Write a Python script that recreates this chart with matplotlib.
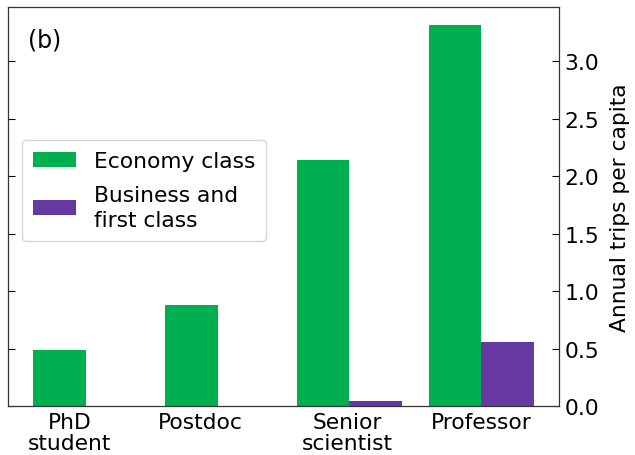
import matplotlib
matplotlib.use("Agg")
import matplotlib.pyplot as plt
import numpy as np

categories = ["PhD\nstudent", "Postdoc", "Senior\nscientist", "Professor"]
economy = [0.49, 0.88, 2.14, 3.31]
business = [0.0, 0.0, 0.04, 0.56]
yticks = [0.0, 0.5, 1.0, 1.5, 2.0, 2.5, 3.0]

green = "#00AF50"
purple = "#6539A0"
fs = 15.7

fig = plt.figure(figsize=(6.35, 4.56), dpi=100)
ax = fig.add_axes([8/635, 1-407/456, (559-8)/635, (407-8)/456])

x = np.arange(len(categories))
w = 0.4
ax.bar(x - w/2, economy, w, color=green, label="Economy class")
ax.bar(x + w/2, business, w, color=purple, label="Business and\nfirst class")

ax.set_xlim(-0.59, 3.59)
ax.set_ylim(0, 3.47)
label_offsets = [-0.12, -0.13, -0.015, 0.0]
ax.set_xticks(x + np.array(label_offsets))
ax.set_xticklabels(categories, fontsize=fs, linespacing=1.1)
ax.tick_params(axis="x", length=0, pad=4)

ax.set_yticks(yticks)
ax.set_yticklabels([f"{v:.1f}" for v in yticks], fontsize=fs)
ax.tick_params(axis="y", direction="in", left=True, right=True,
               labelleft=False, labelright=True, length=5, pad=4)
ax.yaxis.set_label_position("right")
ax.set_ylabel("Annual trips per capita", fontsize=fs, labelpad=8)

for s in ax.spines.values():
    s.set_linewidth(0.9)
    s.set_color("#333333")

ax.text(0.036, 0.948, "(b)", transform=ax.transAxes, fontsize=17,
        va="top", ha="left")

leg = ax.legend(loc="upper left", bbox_to_anchor=(0.025, 0.667), fontsize=fs,
                frameon=True, borderaxespad=0.0, handlelength=2.0,
                labelspacing=0.65, borderpad=0.5)
for t in leg.get_texts():
    t.set_linespacing(1.3)

fig.savefig("out.png", dpi=100)
